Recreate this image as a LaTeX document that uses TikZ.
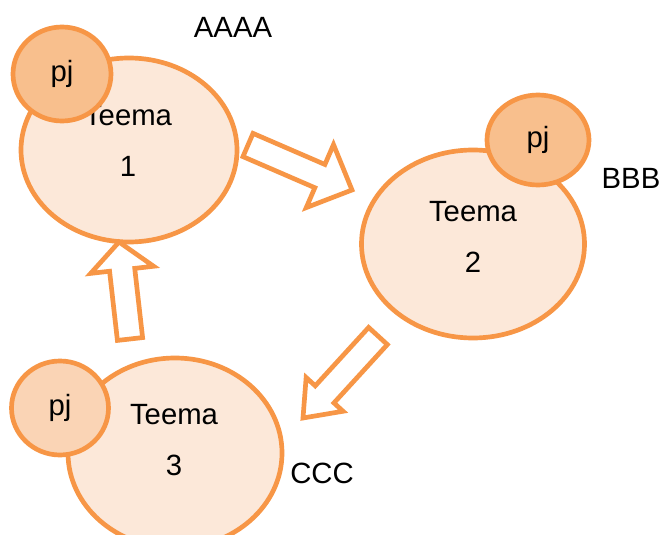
\documentclass[tikz,border=0pt]{standalone}
\usepackage{fontspec}
\setmainfont{Liberation Sans}
\usetikzlibrary{shapes.geometric,calc}
\definecolor{og}{HTML}{F79646}
\definecolor{pale}{HTML}{FCE8D9}
\definecolor{peach}{HTML}{F8BF8D}
\definecolor{lightpeach}{HTML}{FAD4B5}
\tikzset{
    topic/.style =  {ellipse,
                    fill=pale,
                    draw=og,
                    line width=4pt,
                    inner sep=0pt},
    pj/.style =     {ellipse,
                    fill=peach,
                    draw=og,
                    text=black,
                    line width=4pt,
                    inner sep=0pt,
                    font=\fontsize{25}{29}\selectfont},
    ttext/.style =  {align=center,
                    text=black,
                    font=\fontsize{25}{43.5}\selectfont},
    lbl/.style =    {text=black,
                    font=\fontsize{25}{29}\selectfont},
    blockarr/.style={fill=white,
                    draw=og,
                    line width=4pt,
                    line join=miter},
    -,
    x=0.03cm,
    y=-0.03cm}
\newcommand\shafthalf{0.38cm}
% block arrow: tail, tip, head length, half head width
\newcommand\blockarrow[4]{%
    \coordinate (hb) at ($(#2)!#3!(#1)$);
    \draw[blockarr] ($(#1)!\shafthalf!90:(#2)$) -- ($(hb)!\shafthalf!-90:(#1)$)
        -- ($(hb)!#4!-90:(#1)$) -- (#2) -- ($(hb)!#4!90:(#1)$)
        -- ($(hb)!\shafthalf!90:(#1)$) -- ($(#1)!\shafthalf!-90:(#2)$) -- cycle;}
\begin{document}
\begin{tikzpicture}
    \clip (0,0) rectangle (660,535);
    \fill[white] (0,0) rectangle (660,535);
                    \node[topic, minimum width=6.48cm, minimum height=5.52cm] (t1) at (129,150) {};
                    \node[topic, minimum width=6.69cm, minimum height=5.64cm] (t2) at (473,244) {};
                    \node[topic, minimum width=6.42cm, minimum height=5.70cm] (t3) at (175,453) {};
                    \node[ttext]     (t1txt) at (128,141)      {Teema\\1};
                    \node[ttext]     (t2txt) at (473,237)      {Teema\\2};
                    \node[ttext]     (t3txt) at (174,440)      {Teema\\3};
                    \node[pj, minimum width=2.94cm, minimum height=2.82cm] (p1) at (62,74)  {pj};
                    \node[pj, minimum width=3.06cm, minimum height=2.70cm] (p2) at (538,140) {pj};
                    \node[pj, fill=lightpeach, minimum width=2.91cm, minimum height=2.82cm] (p3) at (60,408) {pj};
                    \node[lbl]       (aaaa) at (233,27)        {AAAA};
                    \node[lbl]       (bbb)  at (631,178)       {BBB};
                    \node[lbl]       (ccc)  at (322,473)       {CCC};
                    \coordinate (a1tail) at (248,145);
                    \coordinate (a1tip)  at (352,190);
                    \coordinate (a2tail) at (378,336);
                    \coordinate (a2tip)  at (303,418);
                    \coordinate (a3tail) at (130,339);
                    \coordinate (a3tip)  at (119,242);
                    \blockarrow{a1tail}{a1tip}{1.05cm}{1.03cm}
                    \blockarrow{a2tail}{a2tip}{0.96cm}{0.75cm}
                    \blockarrow{a3tail}{a3tip}{0.84cm}{0.95cm}
\end{tikzpicture}
\end{document}
